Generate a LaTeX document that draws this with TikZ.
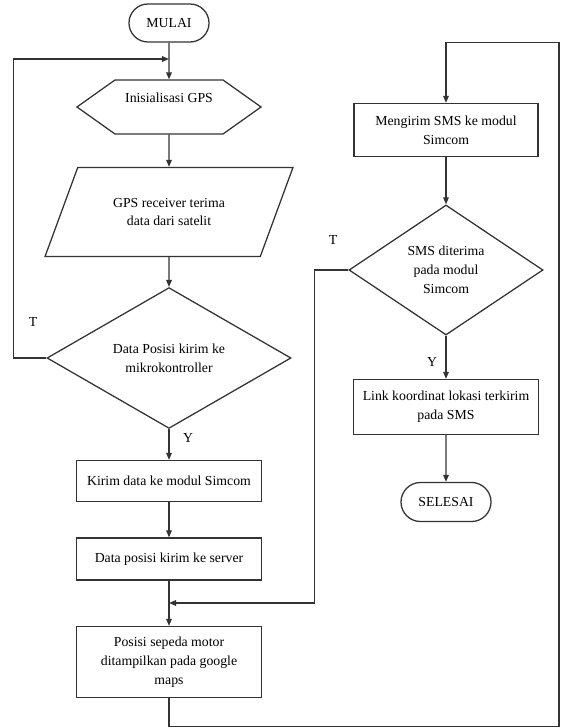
\documentclass[tikz,border=0pt]{standalone}
\usepackage{fontspec}
\setmainfont{Liberation Serif}
\usetikzlibrary{shapes.geometric,shapes.misc,shapes.symbols,arrows.meta}
\begin{document}
\begin{tikzpicture}[x=0.025cm, y=-0.025cm, line width=0.9pt,
    font=\fontsize{9.8}{13.5}\selectfont, >={Triangle[length=5pt,width=4pt]},
    terminal/.style={draw=black!80, rounded rectangle, minimum height=0.95cm, inner sep=0pt},
    proses/.style={draw=black!80, rectangle, minimum width=4.625cm, align=center, inner sep=1pt},
    keputusan/.style={draw=black!80, diamond, align=center, inner sep=0pt},
    alur/.style={->, draw=black!80}]
    \useasboundingbox (0,0) rectangle (560,728);

    \node[terminal, minimum width=2cm] (mulai) at (169,23) {MULAI};
    \node[draw=black!80, signal, signal to=east and west, signal pointer angle=70.8, minimum width=4.6cm, minimum height=1.35cm, align=center, inner sep=0pt] (init) at (169,107) {Inisialisasi GPS\\ \mbox{}};
    \node[draw=black!80, trapezium, trapezium left angle=54.7, trapezium right angle=125.3, trapezium stretches=true, minimum width=6.2cm, minimum height=2.225cm, align=center, inner sep=0pt] (gps) at (169,212) {GPS receiver terima\\data dari satelit};
    \node[keputusan, minimum width=6.1cm, minimum height=2.8cm] (posisi) at (169,358) {Data Posisi kirim ke\\mikrokontroller};
    \node[proses, minimum height=1.025cm] (kirim) at (169,481) {Kirim data ke modul Simcom};
    \node[proses, minimum height=1.05cm] (server) at (169,559) {Data posisi kirim ke server};
    \node[proses, minimum height=1.775cm] (tampil) at (169,662) {Posisi sepeda motor\\ditampilkan pada google\\maps};

    \node[proses, minimum width=4.6cm, minimum height=1.325cm] (sms) at (446,130) {Mengirim SMS ke modul\\Simcom};
    \node[keputusan, minimum width=4.85cm, minimum height=3.25cm] (terima) at (446,270) {SMS diterima\\pada modul\\Simcom};
    \node[proses, minimum height=1.375cm] (link) at (446,407) {Link koordinat lokasi terkirim\\pada SMS};
    \node[terminal, minimum width=2.25cm, minimum height=0.975cm] (selesai) at (446,502) {SELESAI};

    \node (t1) at (33,322) {T};
    \node (y1) at (188,438) {Y};
    \node (t2) at (333,240) {T};
    \node (y2) at (432,362) {Y};

    \coordinate (j1) at (169,59);
    \coordinate (j2) at (169,603);

    \draw[alur] (mulai) -- (init);
    \draw[alur] (posisi.west) -- ++(-33,0) |- (j1);
    \draw[alur] (init) -- (gps);
    \draw[alur] (gps) -- (posisi);
    \draw[alur] (posisi) -- (kirim);
    \draw[alur] (kirim) -- (server);
    \draw[alur] (server) -- (tampil);
    \draw[alur] (terima.west) -- ++(-34,0) |- (j2);
    \draw[alur] (tampil.south) -- ++(0,28) -- ++(390,0) -- ++(0,-684) -| (sms.north);
    \draw[alur] (sms) -- (terima);
    \draw[alur] (terima) -- (link);
    \draw[alur] (link) -- (selesai);
\end{tikzpicture}
\end{document}
